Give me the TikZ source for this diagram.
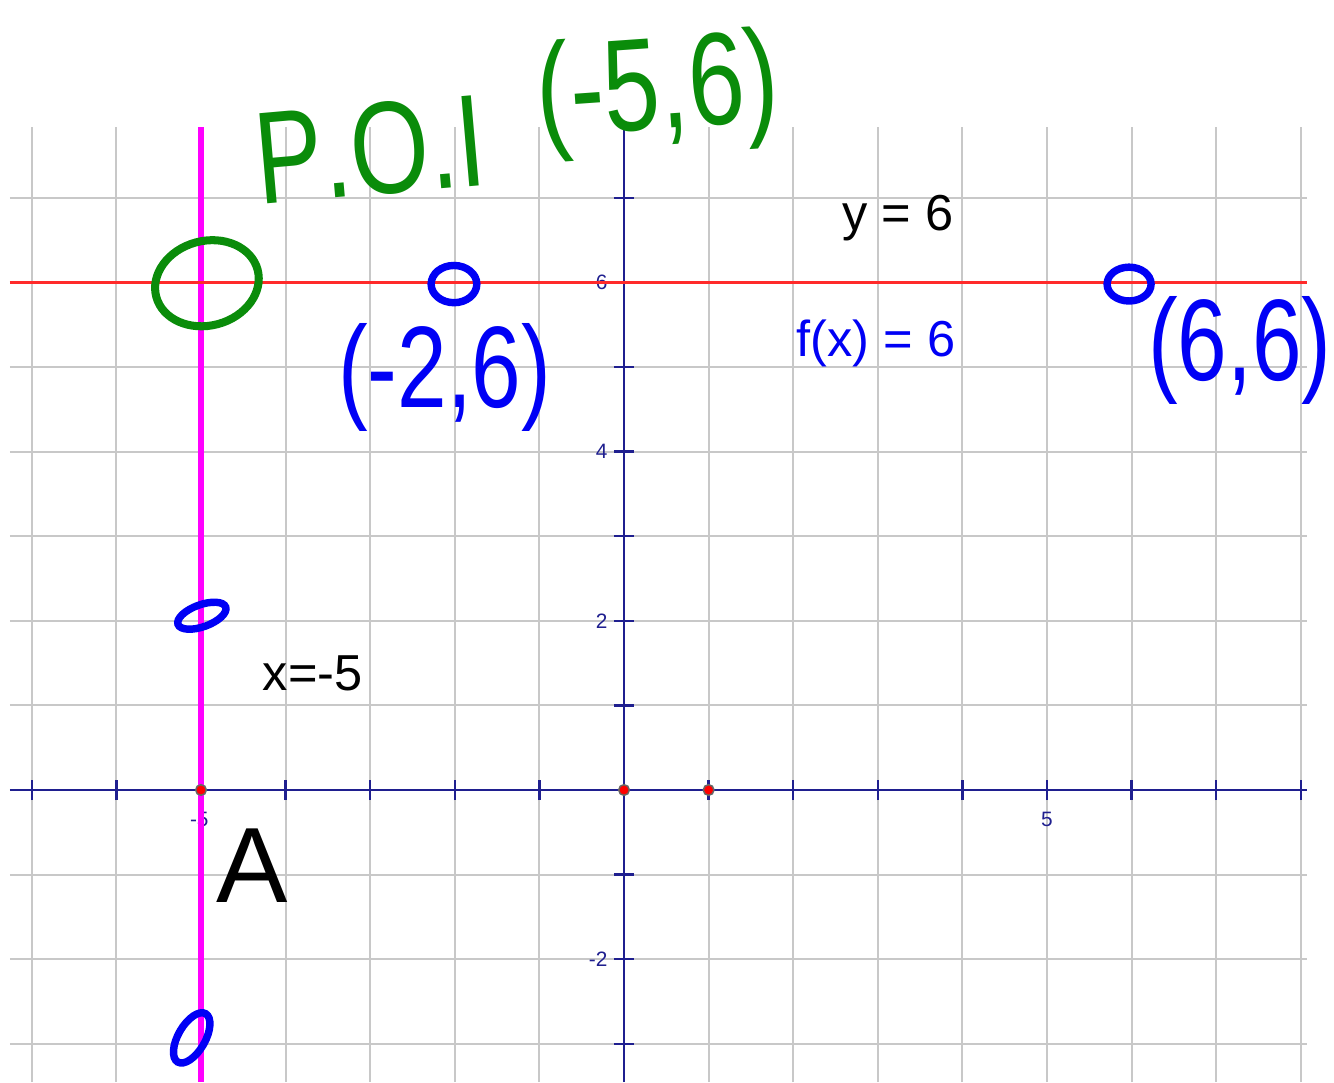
\documentclass[tikz,border=0pt]{standalone}
\usepackage{fontspec}
\setmainfont{Liberation Sans}
\usepackage{graphicx}
\definecolor{gridgray}{HTML}{C8C8C8}
\definecolor{axisnavy}{HTML}{1F1F8F}
\definecolor{lineRed}{HTML}{FF2A2A}
\definecolor{vmag}{HTML}{FF00FF}
\definecolor{penGreen}{HTML}{0A8C0A}
\definecolor{penBlue}{HTML}{0000F5}
\newcommand{\tall}[1]{\scalebox{1}[1.3]{#1}}
\tikzset{
  gridln/.style={draw=gridgray,line width=0.7pt},
  axisln/.style={draw=axisnavy,line width=0.8pt},
  ticklbl/.style={font=\fontsize{7}{8}\selectfont\color{axisnavy},inner sep=0pt},
  eqlbl/.style={font=\fontsize{17}{20}\selectfont,inner sep=0pt},
  ptdot/.style={circle,fill=red,draw=black!60,line width=0.5pt,minimum size=3.6pt,inner sep=0pt},
  penG/.style={draw=penGreen,line width=2.7pt},
  penB/.style={draw=penBlue,line width=2.5pt},
  handG/.style={font=\fontsize{34}{36}\selectfont\addfontfeatures{Kerning=Off},text=penGreen,inner sep=0pt},
  handB/.style={font=\fontsize{30}{32}\selectfont,text=penBlue,inner sep=0pt},
}
\begin{document}
\begin{tikzpicture}[x=1cm,y=1cm]
\useasboundingbox (-7.376,-3.452) rectangle (8.392,9.338);
\fill[white] (-7.376,-3.452) rectangle (8.392,9.338);
\foreach \x in {-7,...,8} \draw[gridln] (\x,-3.452) -- (\x,7.84);
\foreach \y in {-3,...,7} \draw[gridln] (-7.26,\y) -- (8.07,\y);
\draw[axisln] (-7.26,0) -- (8.07,0);
\draw[axisln] (0,-3.452) -- (0,7.84);
\foreach \x in {-7,...,8} \draw[axisln] (\x,-0.12) -- (\x,0.12);
\foreach \y in {-3,...,7} \draw[axisln] (-0.12,\y) -- (0.12,\y);
\node[ticklbl,anchor=east] (ly6) at (-0.19,6) {6};
\node[ticklbl,anchor=east] (ly4) at (-0.19,4) {4};
\node[ticklbl,anchor=east] (ly2) at (-0.19,2) {2};
\node[ticklbl,anchor=east] (lym2) at (-0.19,-2) {-2};
\node[ticklbl] (lxm5) at (-5.02,-0.35) {-5};
\node[ticklbl] (lx5) at (5,-0.35) {5};
\draw[draw=vmag,line width=1.7pt] (-5,-3.452) -- (-5,7.84);
\draw[draw=lineRed,line width=0.8pt] (-7.26,6) -- (8.07,6);
\node[ptdot] (ptA) at (-5,0) {};
\node[ptdot] (ptO) at (0,0) {};
\node[ptdot] (ptB) at (1,0) {};
\node[eqlbl] (ylab) at (3.24,6.76) {y = 6};
\node[eqlbl,text=penBlue] (flab) at (2.98,5.28) {f(x) = 6};
\node[eqlbl] (xlab) at (-3.68,1.38) {x=-5};
\node[font=\fontsize{36}{40}\selectfont,inner sep=0pt] (Alab) at (-4.40,-0.89) {A};
\node[handG,rotate=5] (poi) at (-3.0,7.57) {\tall{P.O.I}};
\node[handG,rotate=4] (poipt) at (0.4,8.22) {\tall{(-5,6)}};
\node[handB] (lblm2) at (-2.12,4.87) {\tall{(-2,6)}};
\node[handB] (lbl6) at (7.28,5.2) {\tall{(6,6)}};
\draw[penG,rotate around={15:(-4.93,5.99)}] (-4.93,5.99) ellipse [x radius=0.62,y radius=0.5];
\draw[penB] (-2.01,5.98) ellipse [x radius=0.27,y radius=0.22];
\draw[penB] (5.97,5.98) ellipse [x radius=0.26,y radius=0.2];
\draw[penB,rotate around={20:(-4.99,2.06)}] (-4.99,2.06) ellipse [x radius=0.3,y radius=0.13];
\draw[penB,rotate around={60:(-5.11,-2.93)}] (-5.11,-2.93) ellipse [x radius=0.33,y radius=0.16];
\end{tikzpicture}
\end{document}
